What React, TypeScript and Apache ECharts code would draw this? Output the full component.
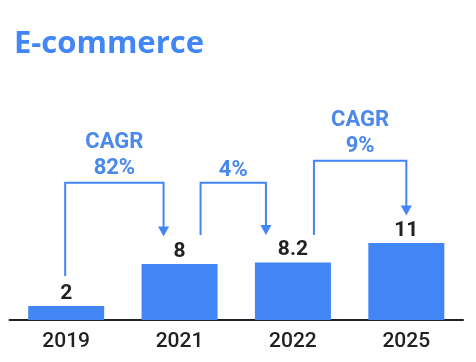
import React, { useEffect, useRef } from "react";
import * as echarts from "echarts";

const categories = ["2019", "2021", "2022", "2025"];
const values = [2, 8, 8.2, 11];
const titleText = "E-commerce";
// growth annotations: from bar index -> to bar index
const annoFrom = [0, 1, 2];
const annoTo = [1, 2, 3];
const annoLines = [["CAGR", "82%"], ["4%"], ["CAGR", "9%"]];

const BLUE = "#4285F4";
const TEXT_BLUE = "#4A88EA";
const DARK = "#202124";

export default function App() {
  const ref = useRef<HTMLDivElement>(null);
  useEffect(() => {
    if (!ref.current) return;
    const chart = echarts.init(ref.current, undefined, { renderer: "svg" });
    chart.setOption({
      animation: false,
      title: {
        text: titleText,
        left: 9,
        top: 20.5,
        textStyle: {
          fontFamily: "Open Sans",
          fontWeight: "bold",
          fontSize: 31,
          lineHeight: 31,
          color: "#4285F4",
        },
      },
      grid: { left: 9.5, right: 13, top: 208, bottom: 42 },
      xAxis: {
        type: "category",
        data: categories,
        axisLine: { lineStyle: { color: DARK, width: 2 } },
        axisTick: { show: false },
        axisLabel: {
          margin: 9,
          fontFamily: "Roboto",
          fontWeight: 500,
          fontSize: 21,
          lineHeight: 21,
          color: DARK,
        },
      },
      yAxis: {
        type: "value",
        min: 0,
        max: 16,
        show: false,
        splitLine: { show: false },
      },
      series: [
        {
          type: "bar",
          data: values,
          barWidth: 76,
          itemStyle: { color: BLUE },
          label: {
            show: true,
            position: "top",
            distance: 4,
            fontFamily: "Roboto",
            fontWeight: "bold",
            fontSize: 21,
            lineHeight: 21,
            color: DARK,
          },
        },
      ],
    });

    const px = (i: number) =>
      chart.convertToPixel({ seriesIndex: 0 }, [i, values[i]]) as number[];
    const labelCenter = (i: number) => px(i)[1] - 15;
    const cx = (i: number) => px(i)[0];

    // layout offsets for each bracket (pixels)
    const leftOffset = [-1, 21, 21];
    const arrowOffset = [-16, -27, 0];
    const hLevels = [182.7, 182.7, 160.7];

    const graphics: any[] = [];
    for (let k = 0; k < annoFrom.length; k++) {
      const a = annoFrom[k];
      const b = annoTo[k];
      const lx = cx(a) + leftOffset[k];
      const ax = cx(b) + arrowOffset[k];
      const startY = k === 0 ? labelCenter(a) - 15 : labelCenter(1) - 14;
      const tip = labelCenter(b) - 12.5;
      const hy = hLevels[k];
      graphics.push({
        type: "polyline",
        shape: {
          points: [
            [lx, startY],
            [lx, hy],
            [ax, hy],
            [ax, tip - 8],
          ],
        },
        style: { stroke: BLUE, lineWidth: 2, fill: "none" },
        silent: true,
      });
      graphics.push({
        type: "polygon",
        shape: {
          points: [
            [ax - 5.5, tip - 10],
            [ax + 5.5, tip - 10],
            [ax, tip],
          ],
        },
        style: { fill: BLUE },
        silent: true,
      });
      const lines = annoLines[k];
      const lastOffset = lines.length > 1 ? 16 : 14;
      lines.forEach((t, j) => {
        graphics.push({
          type: "text",
          x: (lx + ax) / 2,
          y: hy - lastOffset - (lines.length - 1 - j) * 26.5,
          style: {
            text: t,
            fontFamily: "Roboto",
            fontWeight: "bold",
            fontSize: 22,
            lineHeight: 22,
            fill: TEXT_BLUE,
            align: "center",
            verticalAlign: "middle",
          },
          silent: true,
        });
      });
    }
    chart.setOption({ graphic: graphics });

    return () => chart.dispose();
  }, []);
  return (
    <div
      ref={ref}
      style={{ position: "fixed", left: 0, top: 0, width: 476, height: 362 }}
    />
  );
}
